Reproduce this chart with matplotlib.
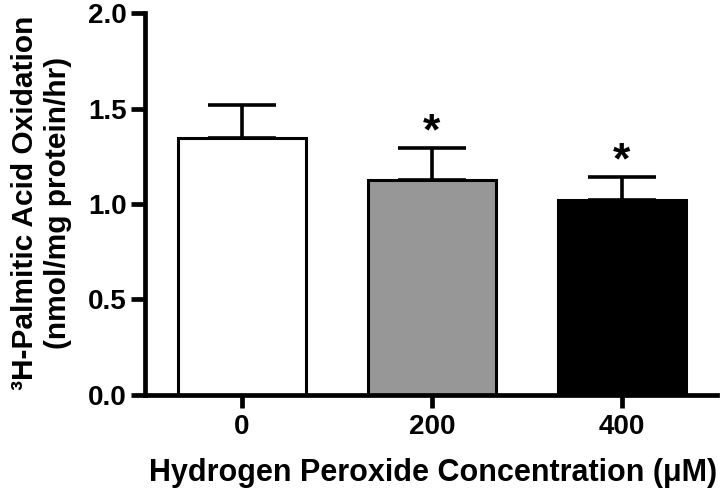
import matplotlib
matplotlib.use("Agg")
import matplotlib.pyplot as plt
import numpy as np

# -----------------------------
# Data
# -----------------------------
concentrations = ["0", "200", "400"]
oxidation = [1.345, 1.126, 1.021]
sem = [0.173, 0.167, 0.12]
significant = [False, True, True]
bar_colors = ["white", "#979797", "black"]

plt.rcParams["font.family"] = ["Liberation Sans", "DejaVu Sans"]
plt.rcParams["font.weight"] = "bold"

fig = plt.figure(figsize=(7.2, 4.93), dpi=100)
ax = fig.add_axes([0.2014, 0.1988, 0.7944, 0.7748])

x = np.arange(len(concentrations))
ax.bar(x, oxidation, width=0.674, color=bar_colors, edgecolor="black",
       linewidth=2.2, zorder=2)
ax.errorbar(x, oxidation, yerr=[np.zeros(len(sem)), sem], fmt="none",
            ecolor="black", elinewidth=2.6, capsize=24.5, capthick=2.6, zorder=1)

# significance stars
for xi, y, e, sig in zip(x, oxidation, sem, significant):
    if sig:
        ax.annotate("*", (xi, y + e), xytext=(0, -4), textcoords="offset points",
                    ha="center", va="bottom", fontsize=32, fontweight="bold")

ax.set_xlim(-0.51, 2.5)
ax.set_ylim(0, 2.0)
ax.set_yticks([0.0, 0.5, 1.0, 1.5, 2.0])
ax.set_yticklabels(["0.0", "0.5", "1.0", "1.5", "2.0"])
ax.set_xticks(x)
ax.set_xticklabels(concentrations)

for side in ["top", "right"]:
    ax.spines[side].set_visible(False)
for side in ["left", "bottom"]:
    ax.spines[side].set_linewidth(3.4)

ax.tick_params(axis="y", length=10, width=3.4, labelsize=20, pad=3)
ax.tick_params(axis="x", length=9, width=3.4, labelsize=20, pad=5)
for lab in ax.get_xticklabels() + ax.get_yticklabels():
    lab.set_fontweight("bold")

ax.set_xlabel("Hydrogen Peroxide Concentration (\u03bcM)", fontsize=22,
              fontweight="bold", va="top")
ax.xaxis.set_label_coords(0.503, -0.165)
ax.set_ylabel("\u00b3H-Palmitic Acid Oxidation\n(nmol/mg protein/hr)",
              fontsize=21.5, fontweight="bold", linespacing=1.2)
ax.yaxis.set_label_coords(-0.128, 0.504)

fig.savefig("out.png", dpi=100)
